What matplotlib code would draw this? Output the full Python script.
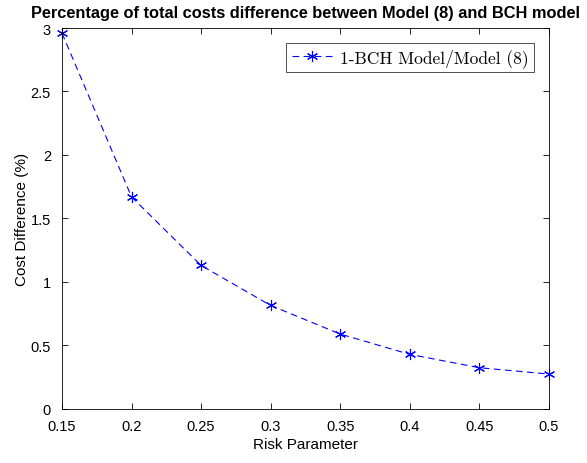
import matplotlib
matplotlib.use('Agg')
import matplotlib.pyplot as plt

plt.rcParams['font.family'] = ['Liberation Sans', 'DejaVu Sans']

risk = [0.15, 0.2, 0.25, 0.3, 0.35, 0.4, 0.45, 0.5]
cost_diff = [2.96, 1.67, 1.13, 0.815, 0.59, 0.43, 0.325, 0.275]
x_ticks = [0.15, 0.2, 0.25, 0.3, 0.35, 0.4, 0.45, 0.5]
y_ticks = [0, 0.5, 1, 1.5, 2, 2.5, 3]

fig = plt.figure(figsize=(5.87, 4.64), dpi=100)
ax = fig.add_axes([0.1056, 0.1164, 0.8296, 0.8211])

ax.plot(risk, cost_diff, color='blue', linestyle='--', linewidth=0.8,
        marker=(6, 2, 0), markersize=8, markeredgewidth=0.8, dashes=(6, 4),
        label='1-BCH Model/Model (8)', clip_on=False)

ax.set_xlim(0.15, 0.5)
ax.set_ylim(0, 3)
ax.set_xticks(x_ticks)
ax.set_xticklabels(['0.15', '0.2', '0.25', '0.3', '0.35', '0.4', '0.45', '0.5'])
ax.set_yticks(y_ticks)
ax.set_yticklabels(['0', '0.5', '1', '1.5', '2', '2.5', '3'])
ax.tick_params(direction='in', top=True, right=True, labelsize=10.5, length=4, width=0.6)
ax.tick_params(axis='x', pad=7)
ax.tick_params(axis='y', pad=8)
for s in ax.spines.values():
    s.set_linewidth(0.6)

ax.set_xlabel('Risk Parameter', fontsize=11, labelpad=3)
ax.set_ylabel('Cost Difference (%)', fontsize=11, labelpad=1)
ax.set_title('Percentage of total costs difference between Model (8) and BCH model',
             fontsize=11.8, fontweight='bold', pad=8)

leg = ax.legend(loc='upper right', prop={'family': 'cmr10', 'size': 12.5},
                fancybox=False, edgecolor='#333333', framealpha=1,
                handlelength=2.3, handletextpad=0.5, borderaxespad=0.85, borderpad=0.3)
leg.get_frame().set_linewidth(0.6)

fig.savefig('out.png', dpi=100)
